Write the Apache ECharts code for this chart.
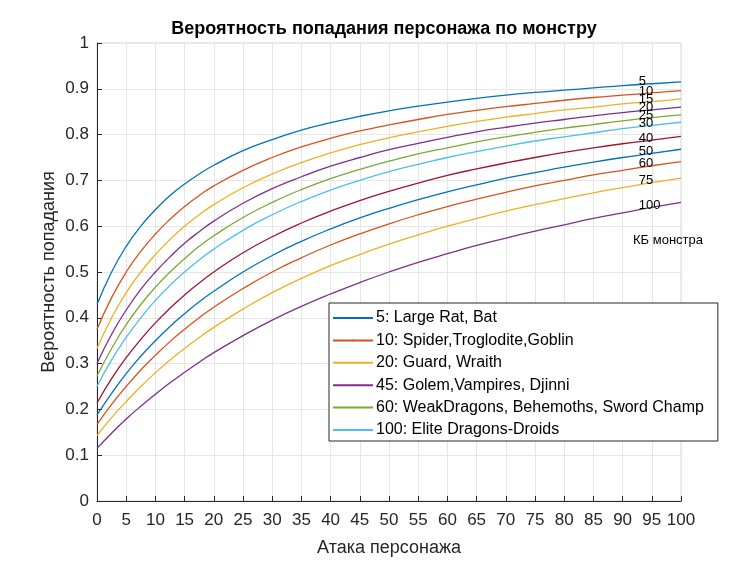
<!DOCTYPE html>
<html>
<head>
<meta charset="UTF-8">
<title>Вероятность попадания</title>
<style>
html, body { margin: 0; padding: 0; background: #fff; }
#main { width: 750px; height: 562px; }
</style>
</head>
<body>
<div id="main"></div>
<script src="https://cdn.jsdelivr.net/npm/echarts@6/dist/echarts.min.js"></script>
<script>
// атака персонажа (в начале чаще, там кривые круче)
var attack = [0, 2.5, 5, 7.5, 10, 12.5, 15, 17.5, 20, 25, 30, 35, 40, 45, 50, 55, 60, 65, 70, 75, 80, 85, 90, 95, 100];

// КБ монстра (подписи справа)
var armor = ['5', '10', '15', '20', '25', '30', '40', '50', '60', '75', '100'];

// подписи легенды (только первые 6 кривых)
var legendNames = [
	'5: Large Rat, Bat',
	'10: Spider,Troglodite,Goblin',
	'20: Guard, Wraith',
	'45: Golem,Vampires, Djinni',
	'60: WeakDragons, Behemoths, Sword Champ',
	'100: Elite Dragons-Droids'
];

// вероятность попадания по каждой кривой
var ac5 = [0.429, 0.500, 0.556, 0.600, 0.636, 0.667, 0.692, 0.714, 0.733, 0.765, 0.789, 0.810, 0.826, 0.840, 0.852, 0.862, 0.871, 0.879, 0.886, 0.892, 0.897, 0.902, 0.907, 0.911, 0.915];
var ac10 = [0.375, 0.444, 0.500, 0.545, 0.583, 0.615, 0.643, 0.667, 0.688, 0.722, 0.750, 0.773, 0.792, 0.808, 0.821, 0.833, 0.844, 0.853, 0.861, 0.868, 0.875, 0.881, 0.886, 0.891, 0.896];
var ac15 = [0.333, 0.400, 0.455, 0.500, 0.538, 0.571, 0.600, 0.625, 0.647, 0.684, 0.714, 0.739, 0.760, 0.778, 0.793, 0.806, 0.818, 0.829, 0.838, 0.846, 0.854, 0.860, 0.867, 0.872, 0.878];
var ac20 = [0.300, 0.364, 0.417, 0.462, 0.500, 0.533, 0.563, 0.588, 0.611, 0.650, 0.682, 0.708, 0.731, 0.750, 0.767, 0.781, 0.794, 0.806, 0.816, 0.825, 0.833, 0.841, 0.848, 0.854, 0.860];
var ac25 = [0.273, 0.333, 0.385, 0.429, 0.467, 0.500, 0.529, 0.556, 0.579, 0.619, 0.652, 0.680, 0.704, 0.724, 0.742, 0.758, 0.771, 0.784, 0.795, 0.805, 0.814, 0.822, 0.830, 0.837, 0.843];
var ac30 = [0.250, 0.308, 0.357, 0.400, 0.438, 0.471, 0.500, 0.526, 0.550, 0.591, 0.625, 0.654, 0.679, 0.700, 0.719, 0.735, 0.750, 0.763, 0.775, 0.786, 0.795, 0.804, 0.813, 0.820, 0.827];
var ac40 = [0.214, 0.267, 0.313, 0.353, 0.389, 0.421, 0.450, 0.476, 0.500, 0.542, 0.577, 0.607, 0.633, 0.656, 0.676, 0.694, 0.711, 0.725, 0.738, 0.750, 0.761, 0.771, 0.780, 0.788, 0.796];
var ac50 = [0.188, 0.235, 0.278, 0.316, 0.350, 0.381, 0.409, 0.435, 0.458, 0.500, 0.536, 0.567, 0.594, 0.618, 0.639, 0.658, 0.675, 0.690, 0.705, 0.717, 0.729, 0.740, 0.750, 0.759, 0.768];
var ac60 = [0.167, 0.211, 0.250, 0.286, 0.318, 0.348, 0.375, 0.400, 0.423, 0.464, 0.500, 0.531, 0.559, 0.583, 0.605, 0.625, 0.643, 0.659, 0.674, 0.688, 0.700, 0.712, 0.722, 0.732, 0.741];
var ac75 = [0.143, 0.182, 0.217, 0.250, 0.280, 0.308, 0.333, 0.357, 0.379, 0.419, 0.455, 0.486, 0.514, 0.538, 0.561, 0.581, 0.600, 0.617, 0.633, 0.647, 0.660, 0.673, 0.684, 0.695, 0.705];
var ac100 = [0.115, 0.148, 0.179, 0.207, 0.233, 0.258, 0.281, 0.303, 0.324, 0.361, 0.395, 0.425, 0.452, 0.477, 0.500, 0.521, 0.540, 0.558, 0.574, 0.589, 0.603, 0.617, 0.629, 0.641, 0.652];

var curves = [ac5, ac10, ac15, ac20, ac25, ac30, ac40, ac50, ac60, ac75, ac100];

// цвета как в matlab
var colors = ['#0072BD', '#D95319', '#EDB120', '#7E2F8E', '#77AC30', '#4DBEEE', '#A2142F'];

var font = 'Liberation Sans, Arial, sans-serif';
var labelAt = attack.indexOf(95);

var series = [];
for (var i = 0; i < curves.length; i++) {
	var pts = [];
	for (var j = 0; j < attack.length; j++) {
		pts.push([attack[j], curves[i][j]]);
	}
	series.push({
		name: i < legendNames.length ? legendNames[i] : armor[i],
		type: 'line',
		data: pts,
		smooth: true,
		symbol: 'none',
		color: colors[i % colors.length],
		lineStyle: { width: 1.3 },
		z: 3,
		markPoint: {
			symbol: 'circle',
			symbolSize: 0,
			silent: true,
			data: [{ coord: [attack[labelAt], curves[i][labelAt]] }],
			label: {
				show: true,
				position: 'inside',
				align: 'left',
				formatter: armor[i],
				offset: [-13, -2],
				color: '#000',
				fontFamily: font,
				fontSize: 13
			}
		}
	});
}

var myChart = echarts.init(document.getElementById('main'));
var option = {
	animation: false,
	backgroundColor: '#fff',
	title: [{
		text: 'Вероятность попадания персонажа по монстру',
		left: 379,
		textAlign: 'center',
		top: 15,
		textStyle: { fontFamily: font, fontSize: 18, fontWeight: 'bold', color: '#000' }
	}, {
		text: 'КБ монстра',
		left: 628,
		top: 229,
		textStyle: { fontFamily: font, fontSize: 13, fontWeight: 'normal', color: '#000' }
	}],
	legend: {
		data: legendNames,
		orient: 'vertical',
		left: 329,
		top: 303,
		padding: [7, 14, 3, 3],
		itemWidth: 40,
		itemHeight: 2,
		itemGap: 6.4,
		backgroundColor: '#fff',
		borderColor: '#262626',
		borderWidth: 1,
		borderRadius: 0,
		textStyle: { fontFamily: font, fontSize: 16, color: '#000', padding: [0, 0, 0, -2] }
	},
	grid: {
		left: 97,
		right: 69,
		top: 43,
		bottom: 61,
		show: true,
		borderColor: '#d9d9d9',
		borderWidth: 1
	},
	xAxis: {
		type: 'value',
		min: 0,
		max: 100,
		interval: 5,
		name: 'Атака персонажа',
		nameLocation: 'middle',
		nameGap: 38,
		nameMoveOverlap: false,
		nameTextStyle: { fontFamily: font, fontSize: 18, color: '#262626' },
		axisLine: { lineStyle: { color: '#262626', width: 1 } },
		axisTick: { inside: true, length: 5, lineStyle: { color: '#262626' } },
		axisLabel: { fontFamily: font, fontSize: 17, color: '#262626', margin: 11 },
		splitLine: { show: true, lineStyle: { color: '#e6e6e6', width: 1 } }
	},
	yAxis: {
		type: 'value',
		min: 0,
		max: 1,
		interval: 0.1,
		name: 'Вероятность попадания',
		nameLocation: 'middle',
		nameGap: 39,
		nameMoveOverlap: false,
		nameTextStyle: { fontFamily: font, fontSize: 18, color: '#262626' },
		axisLine: { show: true, lineStyle: { color: '#262626', width: 1 } },
		axisTick: { show: true, inside: true, length: 5, lineStyle: { color: '#262626' } },
		axisLabel: { fontFamily: font, fontSize: 17, color: '#262626', margin: 8 },
		splitLine: { show: true, lineStyle: { color: '#e6e6e6', width: 1 } }
	},
	series: series
};
myChart.setOption(option);
</script>
</body>
</html>
